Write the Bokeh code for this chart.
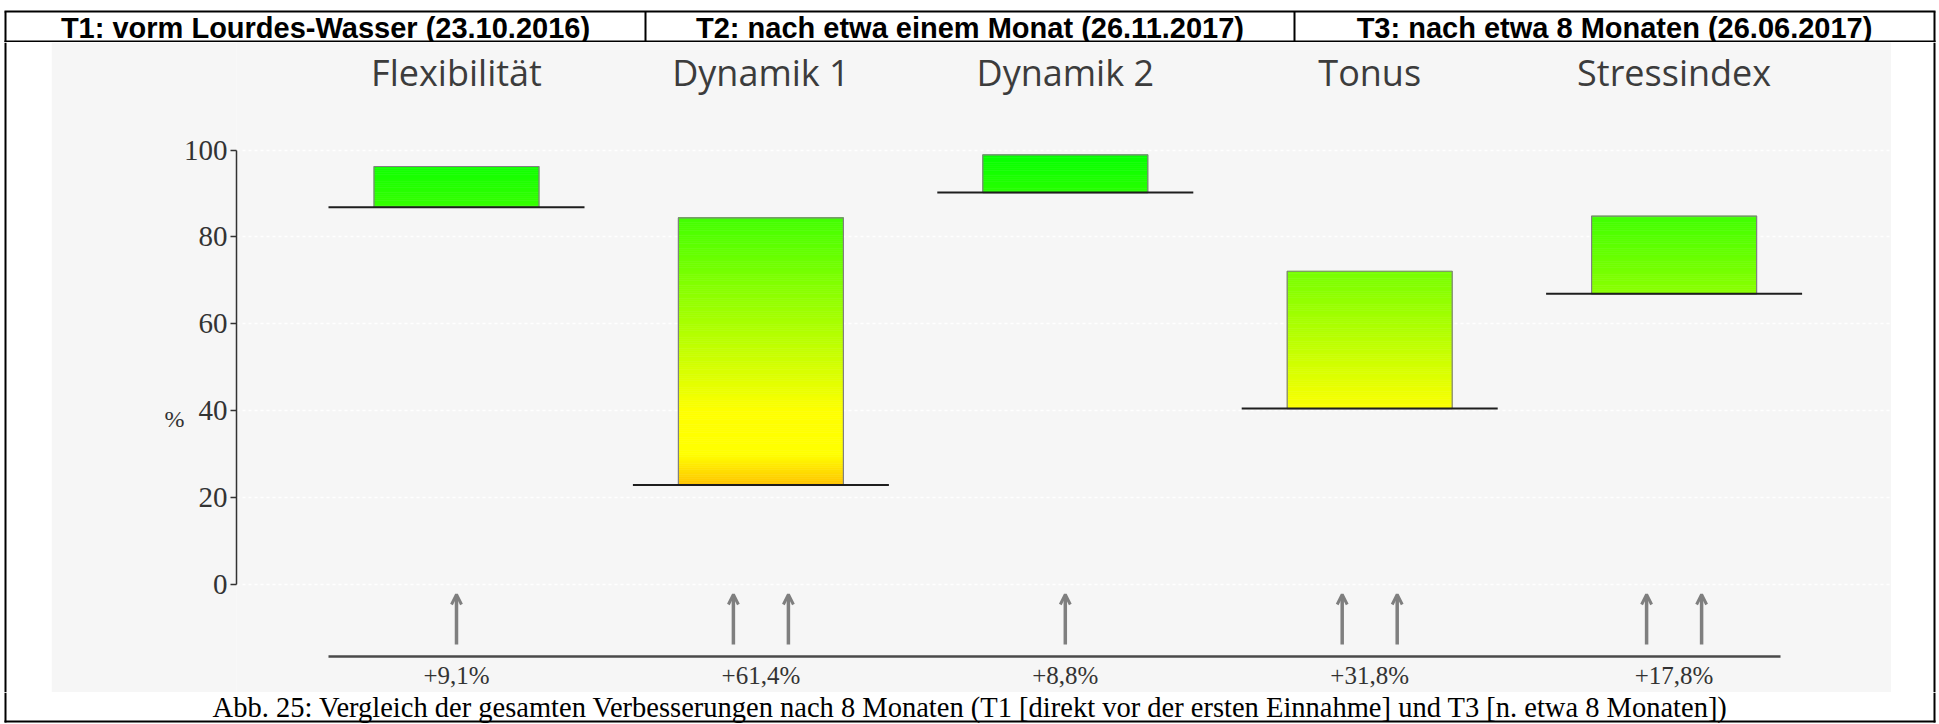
import numpy as np
from bokeh.plotting import figure
from bokeh.layouts import column, row
from bokeh.models import (Range1d, FixedTicker, Arrow, OpenHead, ColumnDataSource, LinearAxis,
                          CustomJSTickFormatter)
from bokeh.embed import file_html
from bokeh.resources import INLINE
from bokeh.core.properties import value

# ---------------- data ----------------
categories = ["Flexibilität", "Dynamik 1", "Dynamik 2", "Tonus", "Stressindex"]
t1_values = [86.8, 22.9, 90.2, 40.5, 66.9]      # T1: vor der ersten Einnahme
t3_values = [96.2, 84.4, 98.9, 72.1, 84.8]      # T3: nach etwa 8 Monaten
improvement_labels = ["+9,1%", "+61,4%", "+8,8%", "+31,8%", "+17,8%"]
arrow_counts = [1, 2, 1, 2, 2]
y_ticks = [0, 20, 40, 60, 80, 100]
y_axis_label = "%"
header_labels = [
    "T1: vorm Lourdes-Wasser (23.10.2016)",
    "T2: nach etwa einem Monat (26.11.2017)",
    "T3: nach etwa 8 Monaten (26.06.2017)",
]
caption_text = ("Abb. 25: Vergleich der gesamten Verbesserungen nach 8 Monaten "
                "(T1 [direkt vor der ersten Einnahme] und T3 [n. etwa 8 Monaten])")

# colour scale of the bars (value -> colour), a style, not data
COLOR_STOP_V = [0, 23, 30, 40, 100]
COLOR_STOP_RGB = [(255, 150, 0), (255, 196, 0), (255, 255, 0), (255, 255, 0), (0, 255, 0)]

# ---------------- layout (screen pixels) ----------------
W, H = 1936, 723
TOP_BORDER = 11
HEADER_BOTTOM = 42
CHART_BOTTOM = 692
BOTTOM_BORDER = 721
LEFT_BORDER, RIGHT_BORDER = 5, 1934
CELL_DIVIDERS = [645, 1294]
GRAY_LEFT, GRAY_RIGHT = 51, 1891
AXIS_X = 236
Y0_PX, Y100_PX = 584, 149.5
CAT0_PX, CAT_STEP = 456, 304.4
BAR_W = 165 / CAT_STEP
LINE_W = 256 / CAT_STEP
ARROW_DX = 27.5 / CAT_STEP
BG = "#f6f6f6"
NUM_FONT = "Liberation Serif"

ppu = (Y0_PX - Y100_PX) / 100.0


def yd(px):
    return (Y0_PX - px) / ppu


def xd(px):
    return (px - CAT0_PX) / CAT_STEP


def color_for(v):
    r = np.interp(v, COLOR_STOP_V, [c[0] for c in COLOR_STOP_RGB])
    g = np.interp(v, COLOR_STOP_V, [c[1] for c in COLOR_STOP_RGB])
    b = np.interp(v, COLOR_STOP_V, [c[2] for c in COLOR_STOP_RGB])
    return "#%02x%02x%02x" % (int(round(r)), int(round(g)), int(round(b)))


def blank(width, height, xr, yr, bg="white"):
    f = figure(width=width, height=height, x_range=Range1d(*xr), y_range=Range1d(*yr),
               output_backend="svg", toolbar_location=None,
               x_axis_location=None, y_axis_location=None,
               min_border=0, min_border_left=0, min_border_right=0,
               min_border_top=0, min_border_bottom=0,
               background_fill_color=bg, border_fill_color=bg, outline_line_color=None)
    f.grid.visible = False
    return f


# ---------------- header ----------------
hdr = blank(W, HEADER_BOTTOM, (0, W), (HEADER_BOTTOM, 0))
hdr.segment(x0=[LEFT_BORDER - 1, LEFT_BORDER - 1], y0=[TOP_BORDER, HEADER_BOTTOM - 1],
            x1=[RIGHT_BORDER + 1, RIGHT_BORDER + 1], y1=[TOP_BORDER, HEADER_BOTTOM - 1],
            line_color="black", line_width=2)
vx = [LEFT_BORDER] + CELL_DIVIDERS + [RIGHT_BORDER]
hdr.segment(x0=vx, y0=[TOP_BORDER] * 4, x1=vx, y1=[HEADER_BOTTOM] * 4,
            line_color="black", line_width=2)
hdr.text(x=[(vx[i] + vx[i + 1]) / 2 for i in range(3)], y=[27] * 3,
         text=header_labels, text_align="center", text_baseline="middle",
         text_font=value("Liberation Sans"), text_font_style="bold",
         text_font_size="29px", text_color="black")

# ---------------- chart ----------------
n = len(categories)
idx = list(range(n))
p = figure(width=GRAY_RIGHT - GRAY_LEFT, height=CHART_BOTTOM - HEADER_BOTTOM,
           x_range=Range1d(xd(AXIS_X), xd(GRAY_RIGHT)),
           y_range=Range1d(yd(CHART_BOTTOM), yd(HEADER_BOTTOM)),
           output_backend="svg", toolbar_location=None,
           x_axis_location=None, y_axis_location="left",
           min_border_left=AXIS_X - GRAY_LEFT, min_border_right=0,
           min_border_top=0, min_border_bottom=0,
           background_fill_color=BG, border_fill_color=BG, outline_line_color=None)
p.xgrid.visible = False
p.ygrid.ticker = FixedTicker(ticks=y_ticks)
p.ygrid.grid_line_color = "white"
p.ygrid.grid_line_width = 1.5
p.ygrid.grid_line_dash = "3 3"
ax = p.yaxis[0]
ax.ticker = FixedTicker(ticks=y_ticks)
ax.bounds = (0, 100)
ax.minor_tick_line_color = None
ax.major_tick_in = 0
ax.major_tick_out = 6
ax.axis_line_color = "#333333"
ax.axis_line_width = 1.5
ax.major_tick_line_color = "#333333"
ax.major_tick_line_width = 1.5
ax.major_label_text_font = NUM_FONT
ax.major_label_text_font_size = "29px"
ax.major_label_text_color = "#333333"
ax.major_label_standoff = 3

# second, label-only axis: its single tick label is the "%" unit
ax2 = LinearAxis(ticker=FixedTicker(ticks=[yd(418)]),
                 formatter=CustomJSTickFormatter(code="return %r;" % y_axis_label),
                 axis_line_color=None, major_tick_line_color=None, minor_tick_line_color=None,
                 major_tick_in=0, major_tick_out=0, major_label_standoff=-4,
                 major_label_text_font=NUM_FONT, major_label_text_font_size="24px",
                 major_label_text_color="#333333")
p.add_layout(ax2, "left")

# category titles
p.text(x=idx, y=[yd(72)] * n, text=categories, text_align="center", text_baseline="middle",
       text_font=value("Open Sans"), text_font_size="36px", text_color="#3c3c3c")

# gradient bars from T1 to T3
sl = dict(left=[], right=[], bottom=[], top=[], color=[])
for i, (b, t) in enumerate(zip(t1_values, t3_values)):
    edges = list(np.arange(b, t, 0.5)) + [t]
    for lo, hi in zip(edges[:-1], edges[1:]):
        sl["left"].append(i - BAR_W / 2)
        sl["right"].append(i + BAR_W / 2)
        sl["bottom"].append(lo)
        sl["top"].append(hi)
        sl["color"].append(color_for((lo + hi) / 2))
p.quad(left="left", right="right", bottom="bottom", top="top", source=ColumnDataSource(sl),
       fill_color="color", line_color="color", line_width=0.6)
p.quad(left=[i - BAR_W / 2 for i in idx], right=[i + BAR_W / 2 for i in idx],
       bottom=t1_values, top=t3_values, fill_color=None, line_color="#808080", line_width=1.2)

# T1 reference lines
p.segment(x0=[i - LINE_W / 2 for i in idx], y0=t1_values,
          x1=[i + LINE_W / 2 for i in idx], y1=t1_values, line_color="#1e1e1e", line_width=2)

# arrows
ax_x, ay0, ay1 = [], [], []
for i, c in enumerate(arrow_counts):
    offs = [0.0] if c == 1 else [-ARROW_DX, ARROW_DX]
    for o in offs:
        ax_x.append(i + o)
        ay0.append(yd(644))
        ay1.append(yd(594))
asrc = ColumnDataSource(dict(x=ax_x, y0=ay0, y1=ay1))
p.add_layout(Arrow(end=OpenHead(size=10, line_color="#7f7f7f", line_width=3),
                   x_start="x", y_start="y0", x_end="x", y_end="y1", source=asrc,
                   line_color="#7f7f7f", line_width=3.5))

# baseline below arrows
p.segment(x0=[xd(328)], y0=[yd(656)], x1=[xd(1780)], y1=[yd(656)],
          line_color="#4a4a4a", line_width=2.5)

# improvement labels
p.text(x=idx, y=[yd(675)] * n, text=improvement_labels, text_align="center",
       text_baseline="middle", text_font=value(NUM_FONT), text_font_size="25px",
       text_color="#333333")

# side strips (white margin + table border)
left_strip = blank(GRAY_LEFT, CHART_BOTTOM - HEADER_BOTTOM, (0, GRAY_LEFT),
                   (CHART_BOTTOM, HEADER_BOTTOM))
left_strip.segment(x0=[LEFT_BORDER], y0=[HEADER_BOTTOM], x1=[LEFT_BORDER], y1=[CHART_BOTTOM],
                   line_color="black", line_width=2)
right_strip = blank(W - GRAY_RIGHT, CHART_BOTTOM - HEADER_BOTTOM, (GRAY_RIGHT, W),
                    (CHART_BOTTOM, HEADER_BOTTOM))
right_strip.segment(x0=[RIGHT_BORDER], y0=[HEADER_BOTTOM], x1=[RIGHT_BORDER], y1=[CHART_BOTTOM],
                    line_color="black", line_width=2)

# ---------------- caption ----------------
cap_h = H - CHART_BOTTOM
cap = blank(W, cap_h, (0, W), (H, CHART_BOTTOM))
cap.segment(x0=[LEFT_BORDER, RIGHT_BORDER], y0=[CHART_BOTTOM] * 2,
            x1=[LEFT_BORDER, RIGHT_BORDER], y1=[BOTTOM_BORDER + 1] * 2,
            line_color="black", line_width=2)
cap.segment(x0=[LEFT_BORDER - 1], y0=[BOTTOM_BORDER], x1=[RIGHT_BORDER + 1], y1=[BOTTOM_BORDER],
            line_color="black", line_width=2)
cap.text(x=[970], y=[707], text=[caption_text], text_align="center", text_baseline="middle",
         text_font=value("Liberation Serif"), text_font_size="28.5px", text_color="black")

layout = column(hdr, row(left_strip, p, right_strip), cap)
open("out.html", "w").write(file_html(layout, INLINE))
